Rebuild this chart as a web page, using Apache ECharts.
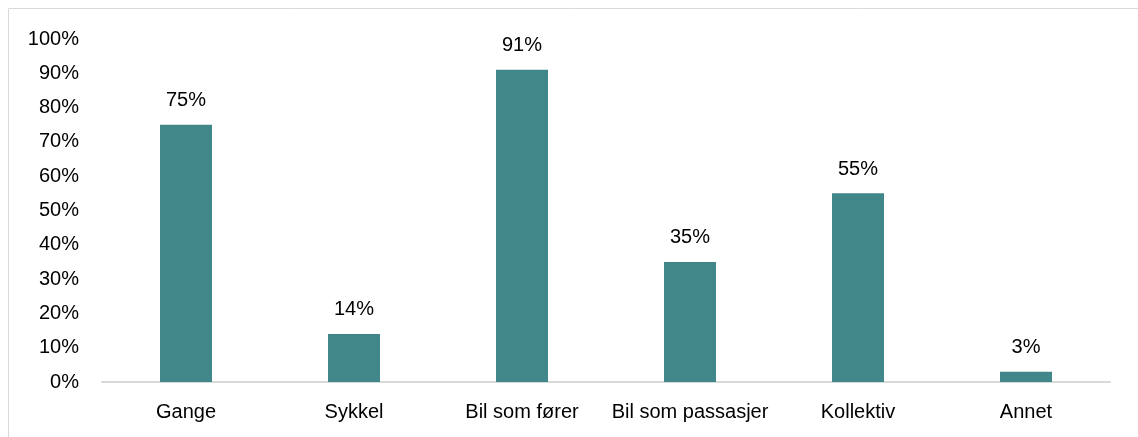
<!DOCTYPE html>
<html>
<head>
<meta charset="utf-8">
<script src="https://cdn.jsdelivr.net/npm/echarts@6/dist/echarts.min.js"></script>
<style>
html,body{margin:0;padding:0;background:#fff;}
#chart{width:1138px;height:437px;}
</style>
</head>
<body>
<div id="chart"></div>
<script>
const categories = ['Gange', 'Sykkel', 'Bil som fører', 'Bil som passasjer', 'Kollektiv', 'Annet'];
const values = [75, 14, 91, 35, 55, 3];
const yTicks = [0, 10, 20, 30, 40, 50, 60, 70, 80, 90, 100];

const FONT = '"Liberation Sans", Arial, sans-serif';
const chart = echarts.init(document.getElementById('chart'), null, {renderer: 'canvas'});
chart.setOption({
  animation: false,
  backgroundColor: '#ffffff',
  graphic: [{
    type: 'rect',
    shape: {x: 8.5, y: 8.5, width: 1200, height: 500},
    style: {fill: 'none', stroke: '#d9d9d9', lineWidth: 1},
    silent: true
  }],
  grid: {left: 102, right: 28, top: 39, bottom: 55, containLabel: false},
  xAxis: {
    type: 'category',
    data: categories,
    axisLine: {show: true, lineStyle: {color: '#d9d9d9', width: 2}},
    axisTick: {show: false},
    axisLabel: {color: '#000', fontFamily: FONT, fontSize: 20, margin: 20,
      interval: 0, hideOverlap: false}
  },
  yAxis: {
    type: 'value',
    min: yTicks[0],
    max: yTicks[yTicks.length - 1],
    interval: 10,
    splitLine: {show: false},
    axisLine: {show: false},
    axisTick: {show: false},
    axisLabel: {color: '#000', fontFamily: FONT, fontSize: 20, margin: 23,
      formatter: v => v + '%'}
  },
  series: [{
    type: 'bar',
    data: values,
    barWidth: 52,
    itemStyle: {color: '#41878a'},
    label: {
      show: true,
      position: 'top',
      distance: 14,
      color: '#000',
      fontFamily: FONT,
      fontSize: 20,
      formatter: p => Math.round(p.value) + '%'
    }
  }]
});
</script>
</body>
</html>
